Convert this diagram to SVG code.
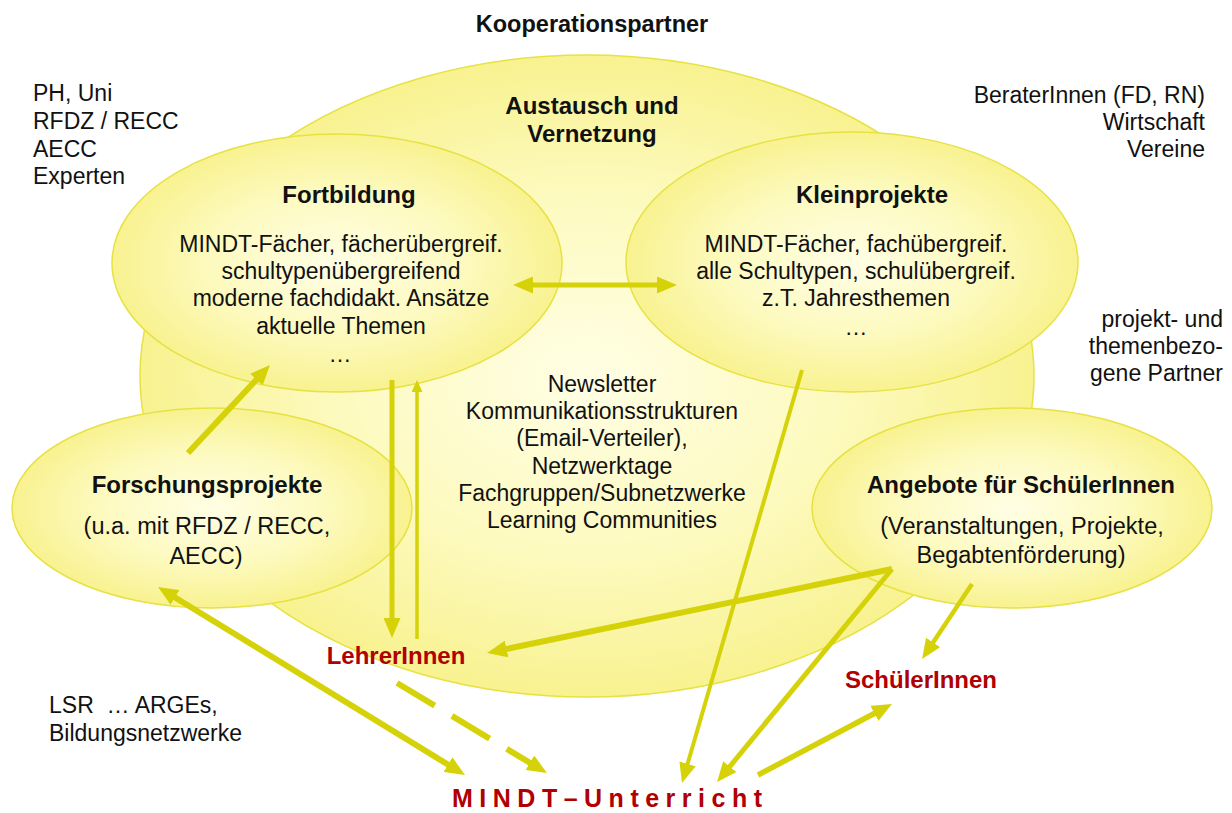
<svg xmlns="http://www.w3.org/2000/svg" width="1232" height="813" viewBox="0 0 1232 813">
  <defs>
    <radialGradient id="fillYellow" cx="50%" cy="50%" r="50%">
      <stop offset="0" stop-color="#FFFEE4"/>
      <stop offset="0.55" stop-color="#FDFAC0"/>
      <stop offset="1" stop-color="#F8F290"/>
    </radialGradient>
    <marker id="head" markerUnits="userSpaceOnUse" markerWidth="20" markerHeight="17" viewBox="0 0 20 17" refX="10" refY="8.5" orient="auto-start-reverse">
      <path d="M0,0 L20,8.5 L0,17 Z" fill="#D6D20A"/>
    </marker>
    <marker id="headSmall" markerUnits="userSpaceOnUse" markerWidth="12" markerHeight="11" viewBox="0 0 12 11" refX="6" refY="5.5" orient="auto-start-reverse">
      <path d="M0,0 L12,5.5 L0,11 Z" fill="#D6D20A"/>
    </marker>
    <style>
      .node { fill: url(#fillYellow); stroke: #E6E244; stroke-width: 1.5; }
      .t { font-family: "Liberation Sans", Arial, sans-serif; font-size: 23px; fill: #111111; }
      .h { font-weight: bold; font-size: 24px; }
      .sub { font-size: 23.5px; }
      .c { text-anchor: middle; }
      .r { text-anchor: end; }
      .red { fill: #B00000; font-weight: bold; font-size: 24px; }
      .link { stroke: #D6D20A; fill: none; stroke-linecap: butt; }
    </style>
  </defs>

  <rect x="0" y="0" width="1232" height="813" fill="#FFFFFF"/>

  <!-- outer cloud: exchange and networking -->
  <g id="austausch">
    <ellipse class="node" cx="587" cy="376" rx="447" ry="321"/>
    <text class="t h c" x="592" y="114">Austausch und</text>
    <text class="t h c" x="592" y="142">Vernetzung</text>
    <text class="t c" x="602" y="392">Newsletter</text>
    <text class="t c" x="602" y="419">Kommunikationsstrukturen</text>
    <text class="t c" x="602" y="446">(Email-Verteiler),</text>
    <text class="t c" x="602" y="474">Netzwerktage</text>
    <text class="t c" x="602" y="501">Fachgruppen/Subnetzwerke</text>
    <text class="t c" x="602" y="528">Learning Communities</text>
  </g>

  <g id="fortbildung">
    <ellipse class="node" cx="337" cy="263" rx="225" ry="129"/>
    <text class="t h c" x="349" y="203">Fortbildung</text>
    <text class="t c" x="341" y="252">MINDT-Fächer, fächerübergreif.</text>
    <text class="t c" x="341" y="279">schultypenübergreifend</text>
    <text class="t c" x="341" y="306">moderne fachdidakt. Ansätze</text>
    <text class="t c" x="341" y="334">aktuelle Themen</text>
    <text class="t c" x="340" y="362">…</text>
  </g>

  <g id="kleinprojekte">
    <ellipse class="node" cx="852" cy="262" rx="226" ry="130"/>
    <text class="t h c" x="872" y="203">Kleinprojekte</text>
    <text class="t c" x="856" y="252">MINDT-Fächer, fachübergreif.</text>
    <text class="t c" x="856" y="279">alle Schultypen, schulübergreif.</text>
    <text class="t c" x="856" y="306">z.T. Jahresthemen</text>
    <text class="t c" x="856" y="335">…</text>
  </g>

  <g id="forschungsprojekte">
    <ellipse class="node" cx="212" cy="508" rx="200" ry="100"/>
    <text class="t h c" x="207" y="493">Forschungsprojekte</text>
    <text class="t sub c" x="207" y="534">(u.a. mit RFDZ / RECC,</text>
    <text class="t sub c" x="206" y="564">AECC)</text>
  </g>

  <g id="angebote">
    <ellipse class="node" cx="1012" cy="508" rx="200" ry="100"/>
    <text class="t h c" x="1021" y="493">Angebote für SchülerInnen</text>
    <text class="t sub c" x="1022" y="534">(Veranstaltungen, Projekte,</text>
    <text class="t sub c" x="1021" y="563">Begabtenförderung)</text>
  </g>

  <!-- partners around the network -->
  <g id="kooperationspartner">
    <text class="t h c" x="592" y="32" style="font-size:23.5px">Kooperationspartner</text>
  </g>
  <g id="partner-hochschulen">
    <text class="t" x="33" y="101">PH, Uni</text>
    <text class="t" x="33" y="129">RFDZ / RECC</text>
    <text class="t" x="33" y="157">AECC</text>
    <text class="t" x="33" y="184">Experten</text>
  </g>
  <g id="partner-beratung">
    <text class="t r" x="1205" y="103">BeraterInnen (FD, RN)</text>
    <text class="t r" x="1205" y="130">Wirtschaft</text>
    <text class="t r" x="1205" y="157">Vereine</text>
  </g>
  <g id="partner-projekte">
    <text class="t r" x="1223" y="327">projekt- und</text>
    <text class="t r" x="1223" y="354">themenbezo-</text>
    <text class="t r" x="1223" y="381">gene Partner</text>
  </g>
  <g id="partner-schulaufsicht">
    <text class="t" x="49" y="713" xml:space="preserve">LSR  … ARGEs,</text>
    <text class="t" x="49" y="741">Bildungsnetzwerke</text>
  </g>

  <g id="lehrerinnen">
    <text class="t red c" x="396" y="664">LehrerInnen</text>
  </g>
  <g id="schuelerinnen">
    <text class="t red c" x="921" y="688">SchülerInnen</text>
  </g>
  <g id="mindt-unterricht">
    <text class="t red" x="452" y="807" style="font-size:25px;letter-spacing:6.5px">MINDT–Unterricht</text>
  </g>

  <!-- connectors -->
  <g id="connectors">
    <line class="link" x1="523" y1="285" x2="667" y2="285" stroke-width="5" marker-start="url(#head)" marker-end="url(#head)"/>
    <line class="link" x1="188" y1="453" x2="263.2" y2="372.3" stroke-width="6" marker-end="url(#head)"/>
    <line class="link" x1="392" y1="380" x2="392" y2="628" stroke-width="5" marker-end="url(#head)"/>
    <line class="link" x1="417" y1="639" x2="417" y2="386" stroke-width="3.5" marker-end="url(#headSmall)"/>
    <line class="link" x1="802" y1="370" x2="684.8" y2="773.4" stroke-width="4" marker-end="url(#head)"/>
    <line class="link" x1="892" y1="569" x2="496.8" y2="651" stroke-width="6" marker-end="url(#head)"/>
    <line class="link" x1="892" y1="569" x2="723.4" y2="774.3" stroke-width="5" marker-end="url(#head)"/>
    <line class="link" x1="972" y1="584" x2="927.6" y2="650.7" stroke-width="4.5" marker-end="url(#head)"/>
    <line class="link" x1="758" y1="775" x2="883.2" y2="708.7" stroke-width="5.5" marker-end="url(#head)"/>
    <line class="link" x1="166.5" y1="592.2" x2="456.5" y2="769.8" stroke-width="6" marker-start="url(#head)" marker-end="url(#head)"/>
    <line class="link" x1="397" y1="683" x2="538.4" y2="767.9" stroke-width="6" stroke-dasharray="44 20" marker-end="url(#head)"/>
  </g>
</svg>
